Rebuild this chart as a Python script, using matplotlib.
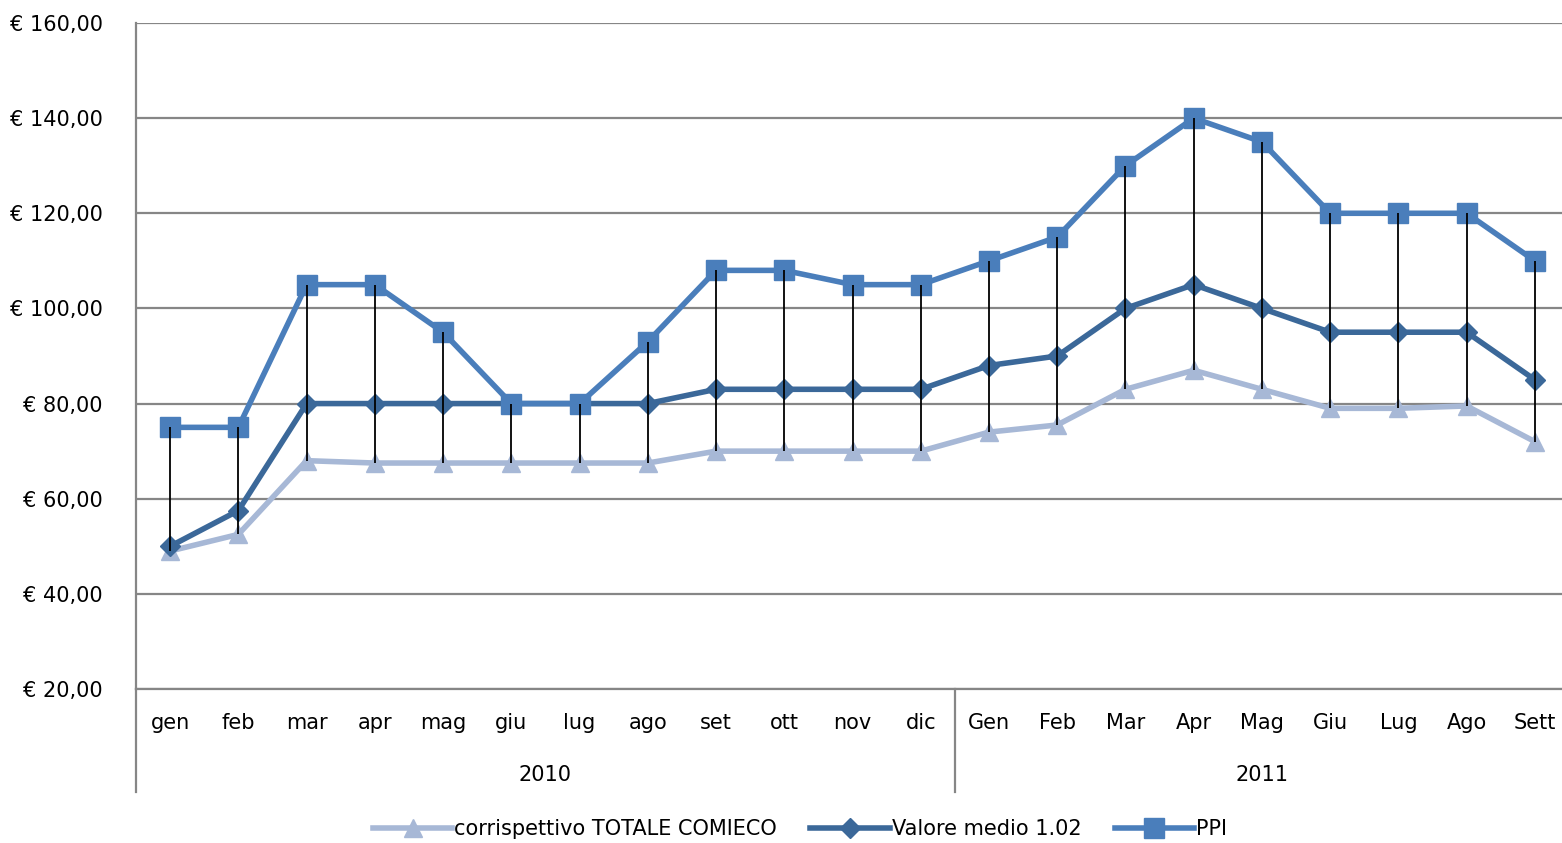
import matplotlib.pyplot as plt
from matplotlib import font_manager

# Corrispettivi COMIECO vs PPI, 2010-2011

months = ["gen", "feb", "mar", "apr", "mag", "giu", "lug", "ago", "set", "ott", "nov", "dic",
          "Gen", "Feb", "Mar", "Apr", "Mag", "Giu", "Lug", "Ago", "Sett"]
years = ["2010", "2011"]
months_per_year = [12, 9]

corrispettivo = [49, 52.5, 68, 67.5, 67.5, 67.5, 67.5, 67.5, 70, 70, 70, 70,
                 74, 75.5, 83, 87, 83, 79, 79, 79.5, 72]
valore_medio = [50, 57.5, 80, 80, 80, 80, 80, 80, 83, 83, 83, 83,
                88, 90, 100, 105, 100, 95, 95, 95, 85]
ppi = [75, 75, 105, 105, 95, 80, 80, 93, 108, 108, 105, 105,
       110, 115, 130, 140, 135, 120, 120, 120, 110]

yticks = [20, 40, 60, 80, 100, 120, 140, 160]

names = [f.name for f in font_manager.fontManager.ttflist]
if "Liberation Sans Narrow" in names:
    plt.rcParams["font.family"] = ["Liberation Sans Narrow", "DejaVu Sans"]
else:
    plt.rcParams["font.family"] = ["DejaVu Sans"]

fig = plt.figure(figsize=(15.62, 8.43), dpi=100)
ax = fig.add_axes([136 / 1562, 1 - 689 / 843, 1433 / 1562, 666 / 843])

x = list(range(len(months)))
grid_col = "#868686"

ax.plot(x, corrispettivo, color="#A7B8D6", lw=4, marker="^", markersize=13,
        label="corrispettivo TOTALE COMIECO", zorder=3)
ax.plot(x, valore_medio, color="#3B6899", lw=4, marker="D", markersize=10,
        label="Valore medio 1.02", zorder=4)
ax.plot(x, ppi, color="#4A7EBB", lw=4, marker="s", markersize=14,
        label="PPI", zorder=5)

# high-low lines
lows = [min(a, b, c) for a, b, c in zip(corrispettivo, valore_medio, ppi)]
highs = [max(a, b, c) for a, b, c in zip(corrispettivo, valore_medio, ppi)]
ax.vlines(x, lows, highs, color="black", lw=1.3, zorder=6)

ax.set_xlim(-0.5, len(months) - 0.5)
ax.set_ylim(20, 160)
ax.set_yticks(yticks)
ax.set_yticklabels(["€ %d,00" % v for v in yticks], fontsize=15)
ax.yaxis.grid(True, color=grid_col, lw=1.6)
ax.set_axisbelow(True)
ax.tick_params(axis="y", length=0, pad=24)
ax.set_xticks(x)
ax.set_xticklabels(months, fontsize=15)
ax.tick_params(axis="x", length=0, pad=17)

for s in ["top", "right"]:
    ax.spines[s].set_visible(False)
for s in ["left", "bottom"]:
    ax.spines[s].set_color(grid_col)
    ax.spines[s].set_linewidth(1.6)

# multi-level category axis
tr = ax.get_xaxis_transform()
depth = -(792 - 689) / 666
ax.plot([-0.5, -0.5], [0, depth], color=grid_col, lw=1.6, transform=tr, clip_on=False)
start = 0
for yr, n in zip(years, months_per_year):
    ax.text(start + (n - 1) / 2, -(775 - 689) / 666, yr, transform=tr,
            ha="center", va="center", fontsize=15)
    start += n
    if start < len(months):
        ax.plot([start - 0.5, start - 0.5], [0, depth], color=grid_col, lw=1.6,
                transform=tr, clip_on=False)

fig.legend(loc="center", bbox_to_anchor=(800 / 1562, 1 - 829 / 843), ncol=3,
           frameon=False, fontsize=15, handlelength=3.8, columnspacing=1.6,
           handletextpad=0.1)

fig.savefig("out.png", dpi=100)
